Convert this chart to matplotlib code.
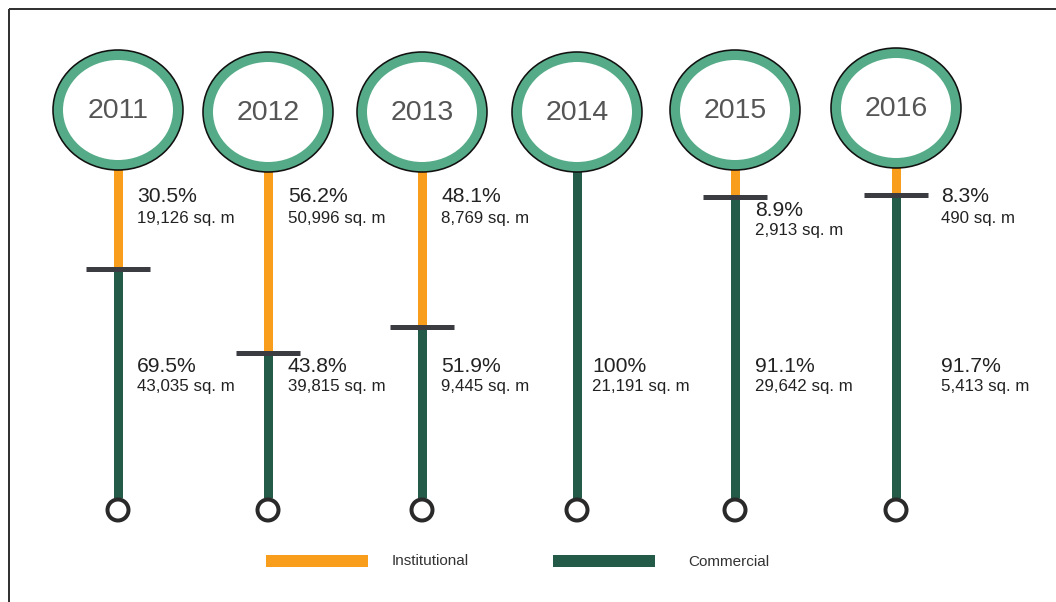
import matplotlib
matplotlib.use("Agg")
import matplotlib.pyplot as plt
from matplotlib.patches import Ellipse, Rectangle, Circle

# Data
years = ["2011", "2012", "2013", "2014", "2015", "2016"]
inst_pct = [30.5, 56.2, 48.1, 0.0, 8.9, 8.3]
inst_area = ["19,126", "50,996", "8,769", None, "2,913", "490"]
comm_pct = [69.5, 43.8, 51.9, 100.0, 91.1, 91.7]
comm_area = ["43,035", "39,815", "9,445", "21,191", "29,642", "5,413"]
legend_labels = ["Institutional", "Commercial"]

# Layout (pixel space)
W, H = 1056, 602
col_x = [118, 268, 422, 577, 735, 896]
ring_y = [110, 112, 112, 112, 110, 108]
label_dx = [19, 20, 19, 15, 20, 45]
stem_top = 168
stem_bottom = 498
foot_y = 510
inst_label_y = [197, 197, 197, None, 210, 197]
comm_label_y = 367

ORANGE = "#F99D1C"
DKGREEN = "#245A48"
RING = "#55AB88"
BAR = "#3B3B42"
TXT = "#222222"
FONT = "Liberation Sans"

fig = plt.figure(figsize=(W / 100, H / 100), dpi=100)
ax = fig.add_axes([0, 0, 1, 1])
ax.set_xlim(0, W)
ax.set_ylim(H, 0)
ax.axis("off")

px = 72 / 100  # points per pixel

# frame lines
ax.plot([9, 9], [H, 9], color="#333333", lw=2 * px, solid_capstyle="butt")
ax.plot([9, W], [9, 9], color="#333333", lw=2 * px, solid_capstyle="butt")

span = stem_bottom - stem_top
for i, yr in enumerate(years):
    x = col_x[i]
    split = stem_top + inst_pct[i] / 100 * span
    # institutional segment
    if inst_pct[i] > 0:
        ax.plot([x, x], [stem_top - 10, split], color=ORANGE, lw=9 * px,
                solid_capstyle="butt", zorder=1)
    # commercial segment
    ax.plot([x, x], [split, stem_bottom], color=DKGREEN, lw=9 * px,
            solid_capstyle="butt", zorder=1)
    # divider
    if 0 < inst_pct[i] < 100:
        ax.plot([x - 32, x + 32], [split, split], color=BAR, lw=5 * px,
                solid_capstyle="butt", zorder=3)

    # year ring
    cy = ring_y[i]
    ax.add_patch(Ellipse((x, cy), 130, 120, facecolor="white", edgecolor="none", zorder=2))
    ax.add_patch(Ellipse((x, cy), 120, 110, facecolor="none", edgecolor=RING,
                         lw=10 * px, zorder=3))
    ax.add_patch(Ellipse((x, cy), 130, 120, facecolor="none", edgecolor="#111111",
                         lw=1.6 * px, zorder=4))
    ax.text(x, cy + 1, yr, ha="center", va="center", fontsize=20.5,
            color="#555555", family=FONT, zorder=5)

    # foot circle
    ax.add_patch(Circle((x, foot_y), 10.5, facecolor="white", edgecolor="#2a2a2a",
                        lw=4 * px, zorder=3))

    # labels
    lx = x + label_dx[i]
    if inst_area[i] is not None:
        ly = inst_label_y[i]
        ax.text(lx, ly, f"{inst_pct[i]:.1f}%", ha="left", va="center",
                fontsize=15.2, color=TXT, family=FONT)
        ax.text(lx, ly + 21, f"{inst_area[i]} sq. m", ha="left", va="center",
                fontsize=12.2, color=TXT, family=FONT)
    pct = comm_pct[i]
    pct_txt = f"{pct:.0f}%" if pct == 100 else f"{pct:.1f}%"
    ax.text(lx, comm_label_y, pct_txt, ha="left", va="center",
            fontsize=15.2, color=TXT, family=FONT)
    ax.text(lx, comm_label_y + 20, f"{comm_area[i]} sq. m", ha="left", va="center",
            fontsize=12.2, color=TXT, family=FONT)

# legend
ax.add_patch(Rectangle((266, 555), 102, 12, facecolor=ORANGE, edgecolor="none"))
ax.text(392, 561, legend_labels[0], ha="left", va="center", fontsize=11,
        color="#333333", family=FONT)
ax.add_patch(Rectangle((553, 555), 102, 12, facecolor=DKGREEN, edgecolor="none"))
ax.text(688, 562, legend_labels[1], ha="left", va="center", fontsize=11,
        color="#333333", family=FONT)

fig.savefig("out.png", dpi=100)
